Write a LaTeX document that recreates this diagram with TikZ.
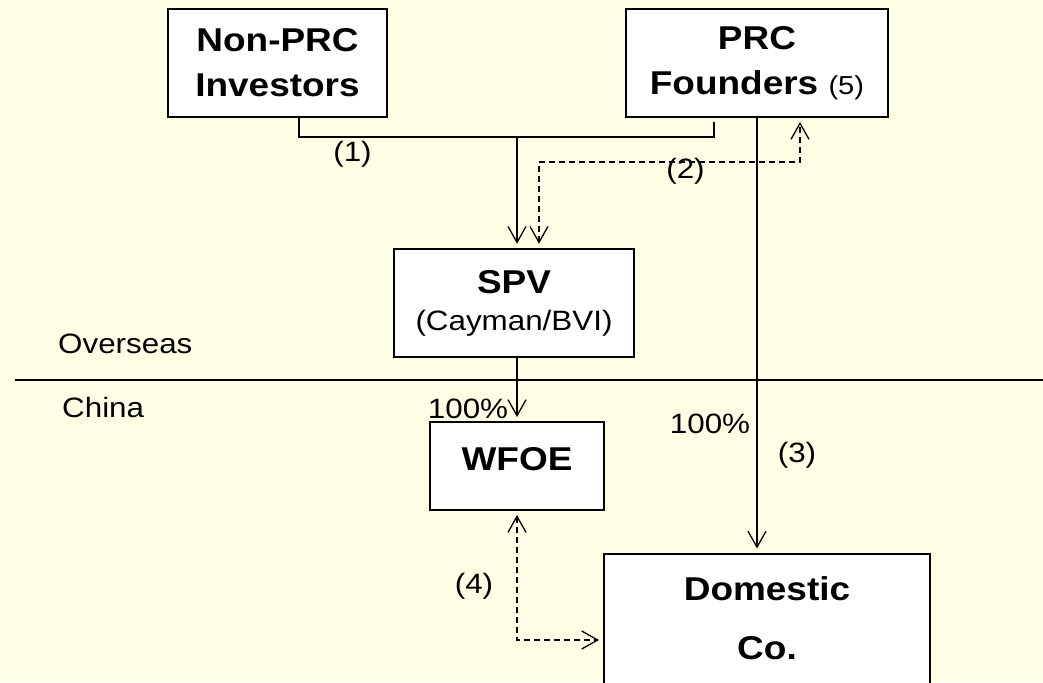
\documentclass[tikz,border=0pt]{standalone}
\usepackage{fontspec}
\setmainfont{Liberation Sans}[FakeStretch=1.12]
\usepackage{tikz}
\usetikzlibrary{arrows.meta}
\definecolor{paper}{RGB}{255,255,230}
\newcommand{\boxfont}{\fontsize{33}{45}\selectfont\bfseries}
\newcommand{\notefont}{\fontsize{28}{34}\selectfont}
\newcommand{\smallnote}{\fontsize{26}{30}\selectfont\mdseries}
\newcommand{\drawlink}{\draw[link]}
\tikzset{
  entity/.style={draw, line width=2pt, fill=white, align=center, font=\boxfont, inner sep=0pt},
  barb/.tip={Straight Barb[length=16pt,width=18pt,line width=1.3pt]},
  link/.style={line width=1.3pt, -barb, shorten >=4pt},
  duallink/.style={line width=1.3pt, dash pattern=on 6pt off 4pt, barb-barb, shorten >=4pt, shorten <=4pt},
  note/.style={font=\notefont, inner sep=0pt}
}

\begin{document}
\begin{tikzpicture}[x=1pt,y=-1pt]
\fill[paper] (0,0) rectangle (1043,682);
\useasboundingbox (0,0) rectangle (1043,682);
\node[entity, minimum width=219pt, minimum height=108pt] (inv) at (277.5,63) {Non-PRC\\Investors};
\node[entity, minimum width=262pt, minimum height=108pt] (fnd) at (757,63) {PRC\\Founders {\smallnote(5)}};
\node[entity, minimum width=240pt, minimum height=108.5pt] (spv) at (514,303) {SPV\\[-8pt]{\mdseries\notefont(Cayman/BVI)}};
\node[entity, minimum width=174pt, minimum height=88pt, text height=25pt, text depth=17pt] (wfoe) at (517,466) {WFOE};
\node[entity, minimum width=326pt, minimum height=130pt] (dom) at (767,618.5) {Domestic\\[14pt]Co.};
\draw[line width=2pt] (15,380) -- (1043,380);
\node[note, anchor=west] (ovs) at (58,343.5) {Overseas};
\node[note, anchor=west] (chn) at (62,407) {China};
\coordinate (hub) at (517,137);
\coordinate (bend) at (800,162);
\draw[line width=1.3pt, shorten >=4pt] ([xshift=21.5pt]inv.south) |- (hub) -| ([xshift=-43pt]fnd.south);
\drawlink (hub) -- (hub |- spv.north);
\draw[duallink] ([xshift=25pt]spv.north) |- (bend) -- (bend |- fnd.south);
\drawlink (fnd.south) -- (fnd.south |- dom.north);
\drawlink (spv.south -| wfoe.north) -- (wfoe.north);
\draw[duallink] (wfoe.south) |- ([yshift=-21.5pt]dom.west);
\node[note] (n1) at (352.5,154) {(1)};
\node[note] (n2) at (685.5,171) {(2)};
\node[note] (n3) at (797,455) {(3)};
\node[note] (n4) at (474,586) {(4)};
\node[note] (pa) at (468,409) {100\%};
\node[note] (pb) at (710,423.5) {100\%};
\end{tikzpicture}
\end{document}
